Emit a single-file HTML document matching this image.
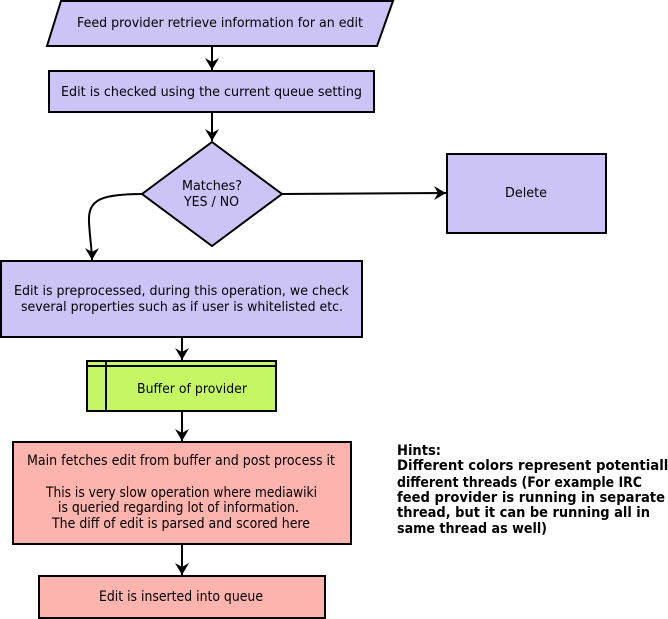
<!DOCTYPE html>
<html><head><meta charset="utf-8"><style>
html,body{margin:0;padding:0;background:#fff;}
svg{display:block;}
text{font-family:"DejaVu Sans","Liberation Sans",sans-serif;font-size:13px;fill:#000;}
.c{font-family:"DejaVu Sans Condensed","DejaVu Sans","Liberation Sans Narrow",sans-serif;font-size:14px;}
.b{font-family:"DejaVu Sans Condensed","DejaVu Sans",sans-serif;font-weight:bold;font-size:14px;}
</style></head><body>
<svg width="668" height="619" viewBox="0 0 668 619" xmlns="http://www.w3.org/2000/svg">
<defs><marker id="a" markerWidth="14" markerHeight="14" refX="12" refY="7" orient="auto" markerUnits="userSpaceOnUse"><path d="M0,0 L12,7 L0,14 L4,7 Z" fill="#000"/></marker></defs>
<g stroke="#000" stroke-width="2">
<polygon points="61,1 393,1 377,46 47,46" fill="#ccc4f7"/>
<rect x="49" y="71" width="325" height="41" fill="#ccc4f7"/>
<polygon points="212,142 282,194 212,246 142,194" fill="#ccc4f7"/>
<rect x="447" y="154" width="159" height="79" fill="#ccc4f7"/>
<rect x="1" y="261" width="361" height="76" fill="#ccc4f7"/>
<rect x="87" y="361" width="189" height="50" fill="#c4f763"/>
<line x1="87" y1="366" x2="276" y2="366"/>
<line x1="106" y1="361" x2="106" y2="411"/>
<rect x="13" y="442" width="338" height="102" fill="#feb4ae"/>
<rect x="39" y="576" width="286" height="42" fill="#feb4ae"/>
<g fill="none">
<line x1="212" y1="46" x2="212" y2="70" marker-end="url(#a)"/>
<line x1="212" y1="112" x2="212" y2="141" marker-end="url(#a)"/>
<line x1="282" y1="194" x2="446" y2="193" marker-end="url(#a)"/>
<path d="M142,194 C100,194 88,200 89,222 C90,240 92,250 92,260" marker-end="url(#a)"/>
<line x1="182" y1="337" x2="182" y2="360" marker-end="url(#a)"/>
<line x1="182" y1="411" x2="182" y2="441" marker-end="url(#a)"/>
<line x1="182" y1="544" x2="182" y2="575" marker-end="url(#a)"/>
</g>
</g>
<text x="77" y="27" textLength="286" lengthAdjust="spacingAndGlyphs">Feed provider retrieve information for an edit</text>
<text x="61" y="96" textLength="301" lengthAdjust="spacingAndGlyphs">Edit is checked using the current queue setting</text>
<text x="182" y="190" textLength="60" lengthAdjust="spacingAndGlyphs">Matches?</text>
<text x="184" y="206" textLength="55" lengthAdjust="spacingAndGlyphs">YES / NO</text>
<text x="505" y="197" textLength="42" lengthAdjust="spacingAndGlyphs">Delete</text>
<text x="14" y="295" textLength="335" lengthAdjust="spacingAndGlyphs">Edit is preprocessed, during this operation, we check</text>
<text x="21" y="311" textLength="322" lengthAdjust="spacingAndGlyphs">several properties such as if user is whitelisted etc.</text>
<text x="137" y="393" textLength="110" lengthAdjust="spacingAndGlyphs">Buffer of provider</text>
<text class="c" x="27" y="465" textLength="308" lengthAdjust="spacingAndGlyphs">Main fetches edit from buffer and post process it</text>
<text class="c" x="46" y="497" textLength="271" lengthAdjust="spacingAndGlyphs">This is very slow operation where mediawiki</text>
<text class="c" x="58" y="512" textLength="241" lengthAdjust="spacingAndGlyphs">is queried regarding lot of information.</text>
<text class="c" x="52" y="528" textLength="258" lengthAdjust="spacingAndGlyphs">The diff of edit is parsed and scored here</text>
<text class="c" x="99" y="601" textLength="164" lengthAdjust="spacingAndGlyphs">Edit is inserted into queue</text>
<text class="b" x="397" y="455" textLength="44" lengthAdjust="spacingAndGlyphs">Hints:</text>
<text class="b" x="397" y="470" textLength="280" lengthAdjust="spacingAndGlyphs">Different colors represent potentially</text>
<text class="b" x="397" y="487" textLength="245" lengthAdjust="spacingAndGlyphs">different threads (For example IRC</text>
<text class="b" x="397" y="502" textLength="268" lengthAdjust="spacingAndGlyphs">feed provider is running in separate</text>
<text class="b" x="397" y="517" textLength="253" lengthAdjust="spacingAndGlyphs">thread, but it can be running all in</text>
<text class="b" x="397" y="533" textLength="150" lengthAdjust="spacingAndGlyphs">same thread as well)</text>
</svg>
</body></html>
